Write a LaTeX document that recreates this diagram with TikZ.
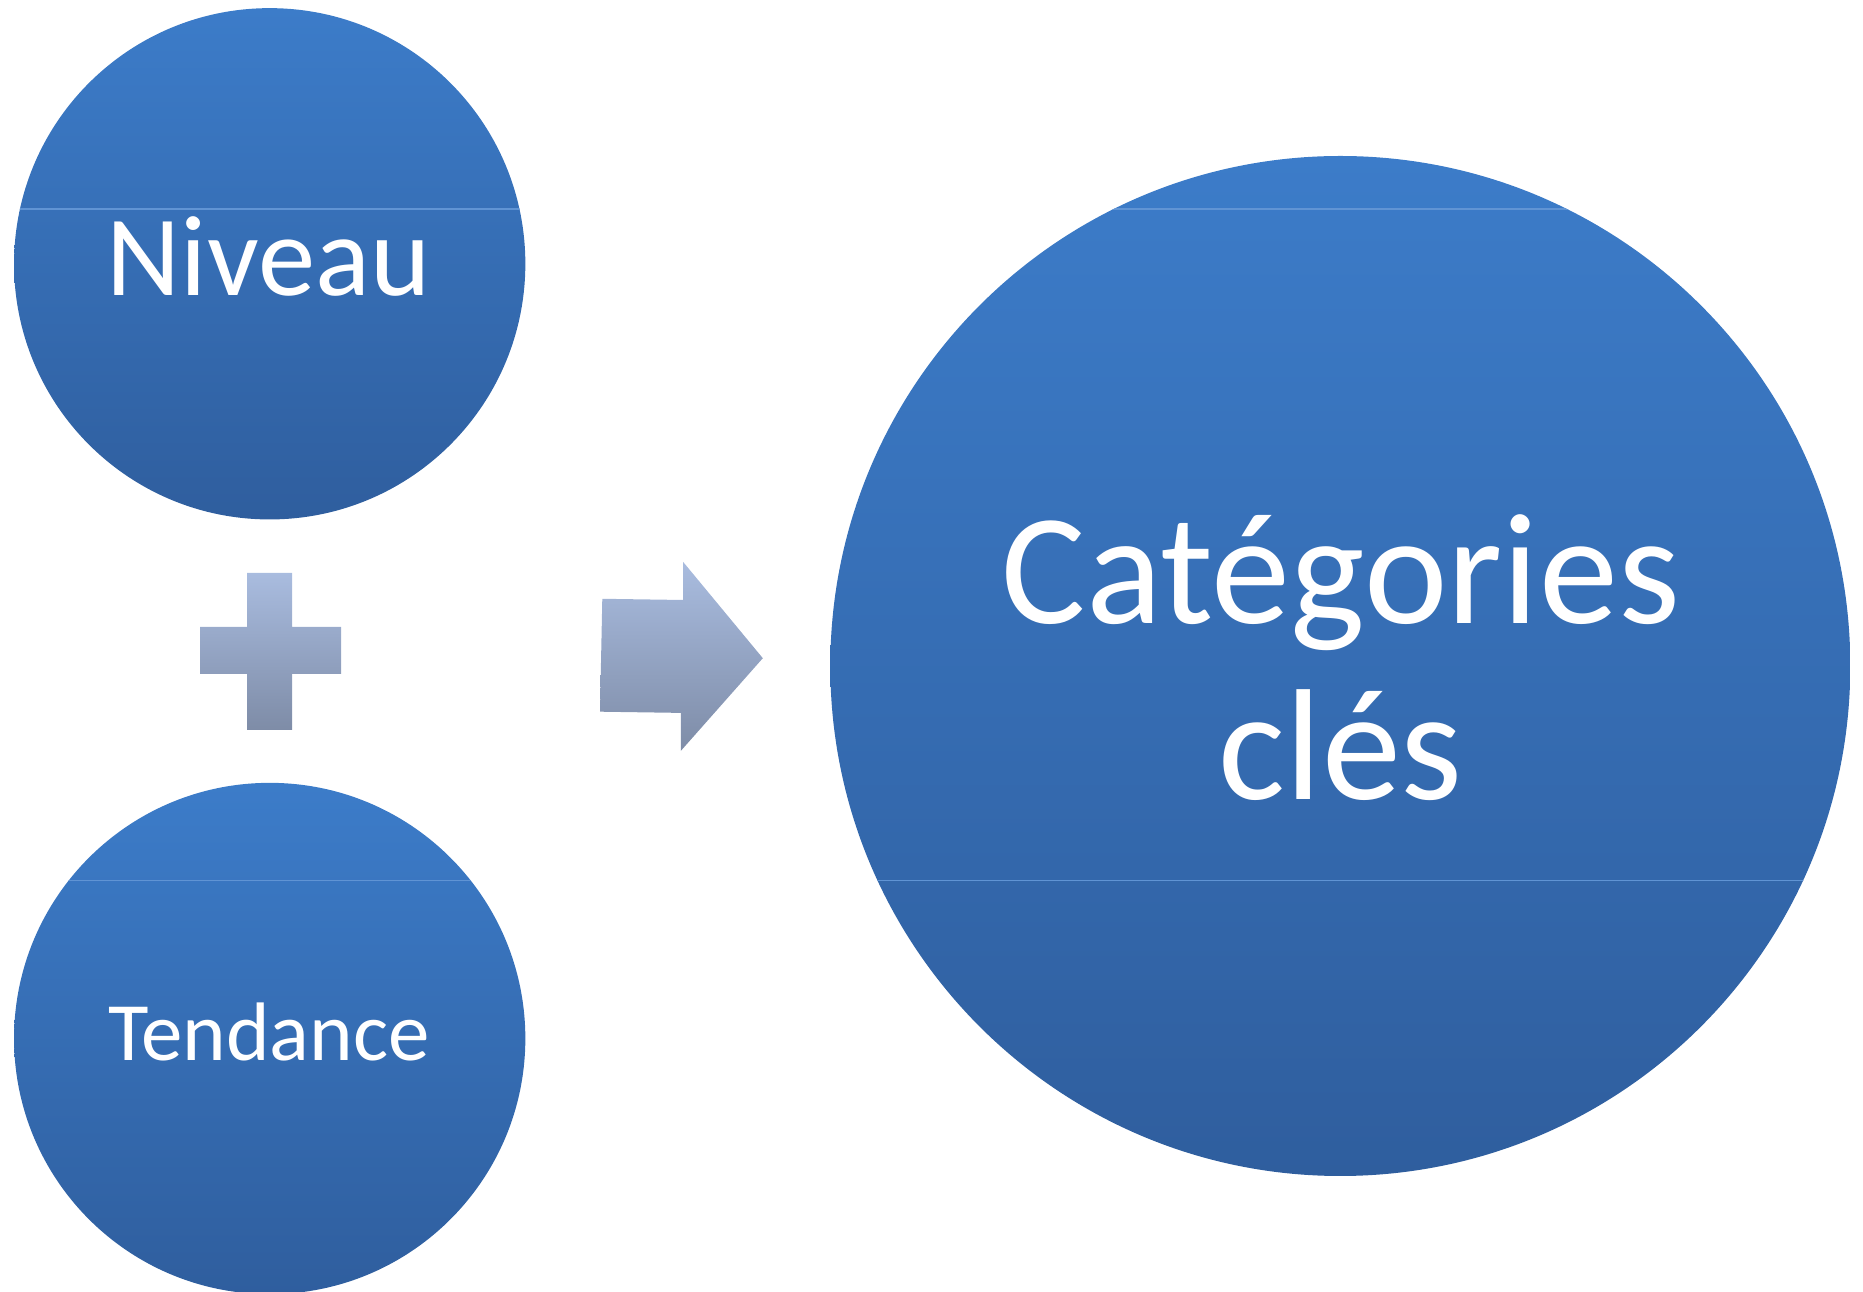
\documentclass[tikz,border=0pt]{standalone}
\usepackage{fontspec}
\setmainfont{Carlito}
\definecolor{circtop}{RGB}{60,124,201}
\definecolor{circbot}{RGB}{47,94,158}
\definecolor{signtop}{RGB}{169,188,223}
\definecolor{signbot}{RGB}{126,140,167}
\definecolor{bandline}{RGB}{96,148,212}
\tikzset{
  bubble/.style={top color=circtop, bottom color=circbot},
  signshape/.style={top color=signtop, bottom color=signbot},
  bubbletext/.style={text=white, align=center, inner sep=0pt, anchor=base},
  band/.style={bandline, line width=0.3pt},
}
\begin{document}
\begin{tikzpicture}[x=0.01cm,y=-0.01cm]
\useasboundingbox (0,0) rectangle (1863,1292);
% three bubbles
\shade[bubble] (269.7,263.8) circle [radius=2.555cm];
\shade[bubble] (269.7,1038.5) circle [radius=2.555cm];
\shade[bubble] (1340.3,666) circle [radius=5.097cm];
% faint band lines
\begin{scope}
\clip (269.7,263.8) circle [radius=2.555cm];
\draw[band] (0,209) -- (600,209);
\end{scope}
\begin{scope}
\clip (269.7,1038.5) circle [radius=2.555cm];
\draw[band] (0,880.5) -- (600,880.5);
\end{scope}
\begin{scope}
\clip (1340.3,666) circle [radius=5.097cm];
\draw[band] (800,209) -- (1863,209);
\draw[band] (800,880.5) -- (1863,880.5);
\end{scope}
% plus sign
\shade[signshape] (247,573) -- (292,573) -- (292,627) -- (341,627) -- (341,674) -- (292,674)
  -- (292,730) -- (247,730) -- (247,674) -- (200,674) -- (200,627) -- (247,627) -- cycle;
% arrow
\shade[signshape] (602.3,598.8) -- (683.2,600) -- (683.2,562) -- (762.8,658.2)
  -- (680.8,750.9) -- (680.8,712.9) -- (600,711.7) -- cycle;
% labels
\node[bubbletext, font=\fontsize{32.6}{39}\selectfont] (niveau) at (268.5,295.8) {Niveau};
\node[bubbletext, font=\fontsize{23.6}{28}\selectfont] (tendance) at (269,1061) {Tendance};
\node[bubbletext, font=\fontsize{45}{50}\selectfont] (categories) at (1340.8,799.6) {Catégories\\clés};
\end{tikzpicture}
\end{document}
